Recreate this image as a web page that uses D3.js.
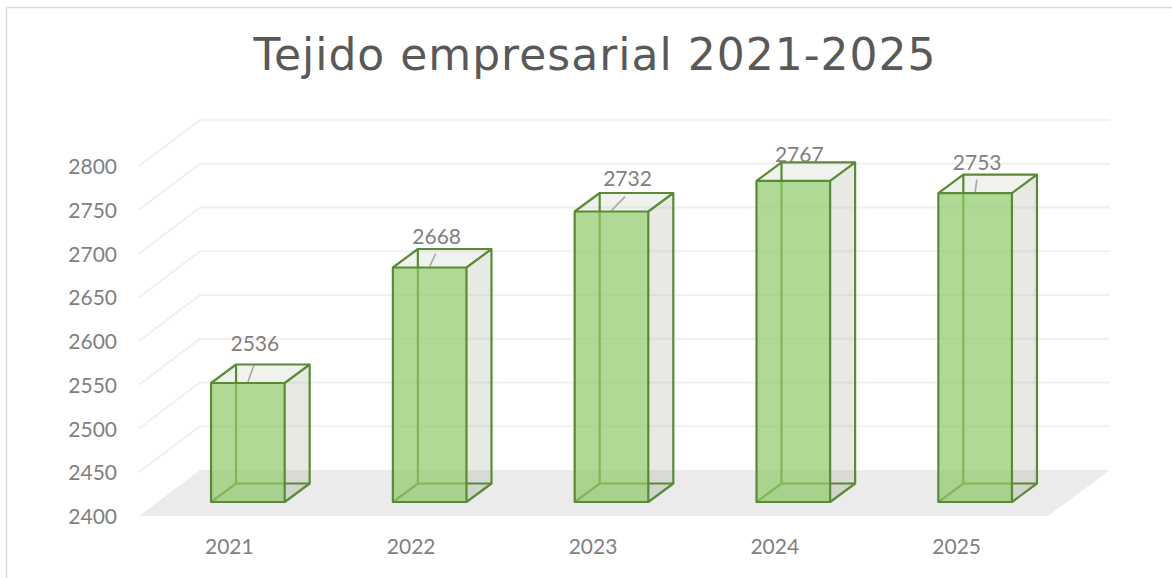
<!DOCTYPE html>
<html><head><meta charset="utf-8">
<script src="https://cdn.jsdelivr.net/npm/d3@7"></script>
<style>html,body{margin:0;background:#fff}svg{display:block}text{font-family:Lato,"Open Sans",sans-serif}</style>
</head><body><svg id="c" width="1172" height="578"></svg>
<script>
const title = "Tejido empresarial 2021-2025";
const categories = ["2021","2022","2023","2024","2025"];
const values = [2536,2668,2732,2767,2753];
const yTicks = [2400,2450,2500,2550,2600,2650,2700,2750,2800];
// label displacement from the bar's top centre (dx, dy), manually placed in the source chart
const labelShifts = [[7,-39],[7,-31],[16,-33],[6,-26],[2,-30]];

const svg = d3.select("#c");
const W=1172,H=578;
const yFront = d3.scaleLinear().domain([2400,2800]).range([516,166]);
const yBar = d3.scaleLinear().domain([2400,2800]).range([502,152]);
const yBack = d3.scaleLinear().domain([2400,2800]).range([470,120]);
const x = d3.scaleBand().domain(categories).range([156.5,1066.5]).paddingInner(0.595).paddingOuter(0.3);
const wallDx=61, barDx=25, barDy=-18.5;

// chart frame
svg.append("path").attr("d",`M6.5,${H}V7.5H${W}`).attr("fill","none").attr("stroke","#d9d9d9").attr("stroke-width",1.5);

svg.append("text").attr("x",595).attr("y",70).attr("text-anchor","middle")
  .style("font-family","'DejaVu Sans'").attr("font-size",44).attr("letter-spacing",1).attr("fill","#595959").text(title);

// floor
const fl=2400;
svg.append("polygon").attr("fill","#ebebeb").attr("points",[
  [139,yFront(fl)],[139+wallDx,yBack(fl)],[1110,yBack(fl)],[1048,yFront(fl)]].join(" "));

// gridlines
svg.append("g").selectAll("path").data(yTicks.slice(1)).join("path")
  .attr("fill","none").attr("stroke","#f0f0f0").attr("stroke-width",2)
  .attr("d",d=>`M139,${yFront(d)}L${139+wallDx},${yBack(d)}H1110`);

// axis labels
svg.append("g").selectAll("text").data(yTicks).join("text")
  .attr("x",117).attr("y",d=>yFront(d)+8).attr("text-anchor","end")
  .attr("font-size",21).attr("fill","#7f7f7f").text(d=>d);
svg.append("g").selectAll("text").data(categories).join("text")
  .attr("x",d=>x(d)+x.bandwidth()/2-18.5).attr("y",554).attr("text-anchor","middle")
  .attr("font-size",21).attr("fill","#7f7f7f").text(d=>d);

// bars
const bars = svg.append("g").selectAll("g").data(values).join("g");
const edge="#5a8a37";
bars.each(function(v,i){
  const g=d3.select(this), L=x(categories[i]), R=L+x.bandwidth(), B=yBar(2400), T=yBar(v);
  const dx=barDx, dy=barDy;
  g.append("polygon").attr("points",[[R,T],[R+dx,T+dy],[R+dx,B+dy],[R,B]].join(" ")).attr("fill","#aab39c").attr("fill-opacity",.28);
  g.append("polygon").attr("points",[[L,T],[L+dx,T+dy],[R+dx,T+dy],[R,T]].join(" ")).attr("fill","#c4cbbc").attr("fill-opacity",.25);
  g.append("polygon").attr("points",[[L,B],[L+dx,B+dy],[R+dx,B+dy],[R,B]].join(" ")).attr("fill","#aab39c").attr("fill-opacity",.15);
  g.append("path").attr("fill","none").attr("stroke",edge).attr("stroke-width",2.2)
   .attr("d",`M${L+dx},${T+dy}V${B+dy}M${L},${B}L${L+dx},${B+dy}H${R+dx}`);
  const s=labelShifts[i], cx=(L+R)/2;
  g.append("rect").attr("x",L).attr("y",T).attr("width",R-L).attr("height",B-T).attr("fill","#8ec968").attr("fill-opacity",.7);
  if(-s[1]>28) g.append("line").attr("x1",cx).attr("y1",T-1).attr("x2",cx+s[0]*.85).attr("y2",T+s[1]*.45)
    .attr("stroke","#a6a6a6").attr("stroke-width",1.6);
  g.append("path").attr("fill","none").attr("stroke",edge).attr("stroke-width",2.2).attr("stroke-linejoin","round")
   .attr("d",`M${L},${B}V${T}H${R}V${B}ZM${L},${T}L${L+dx},${T+dy}H${R+dx}L${R},${T}M${R+dx},${T+dy}V${B+dy}L${R},${B}`);
  g.append("text").attr("x",cx+s[0]).attr("y",T+s[1]+7).attr("text-anchor","middle")
   .attr("font-size",21).attr("fill","#7f7f7f").text(v);
});
</script></body></html>
